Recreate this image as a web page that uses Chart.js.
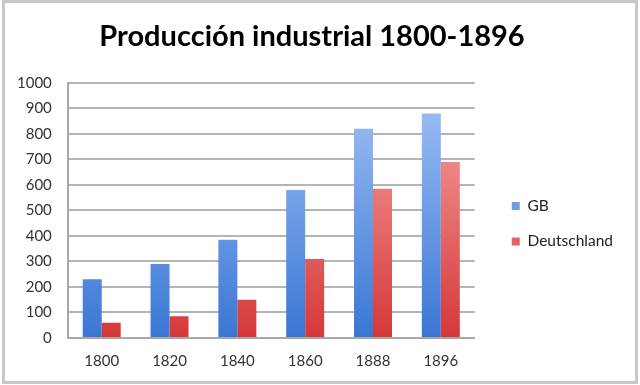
<!DOCTYPE html>
<html>
<head>
<meta charset="utf-8">
<script src="https://cdn.jsdelivr.net/npm/chart.js@4"></script>
<style>
  body { margin: 0; background: #fff; }
  #box { position: absolute; left: 2px; top: 0; width: 636px; height: 384px; border: 3px solid #c8c8c8; box-sizing: border-box; background: #fff; }
  #c { position: absolute; left: 0; top: 0; }
</style>
</head>
<body>
<div id="box"><canvas id="c" width="630" height="378"></canvas></div>
<script>
// datos
var years = ['1800', '1820', '1840', '1860', '1888', '1896'];
var gb = [230, 290, 385, 580, 820, 880];
var deutschland = [60, 85, 150, 310, 585, 690];
var yTicks = [0, 100, 200, 300, 400, 500, 600, 700, 800, 900, 1000];

function grad(top, bottom) {
    return function(ctx) {
        var area = ctx.chart.chartArea;
        if (!area) return bottom;
        var g = ctx.chart.ctx.createLinearGradient(0, area.top, 0, area.bottom);
        g.addColorStop(0, top);
        g.addColorStop(1, bottom);
        return g;
    };
}

var ctxB = document.getElementById('c').getContext('2d');
var myBarChart = new Chart(ctxB, {
    type: 'bar',
    data: {
        labels: years,
        datasets: [{
            label: 'GB',
            data: gb,
            backgroundColor: grad('#a2c4f7', '#3a76d4'),
            borderWidth: 0
        },
        {
            label: 'Deutschland',
            data: deutschland,
            backgroundColor: grad('#f8aaa6', '#d5373a'),
            borderWidth: 0
        }]
    },
    options: {
        responsive: false,
        animation: false,
        layout: { padding: { left: -4, right: 12, top: 2, bottom: 5 } },
        datasets: { bar: { categoryPercentage: 0.56, barPercentage: 1.0 } },
        plugins: {
            title: {
                display: true,
                text: 'Producción industrial 1800-1896',
                color: '#000',
                font: { family: 'Lato', size: 29, weight: 'bold' },
                padding: { top: 14, bottom: 29 }
            },
            legend: {
                position: 'right',
                align: 'center',
                title: { display: true, text: '', font: { size: 12 }, padding: 26 },
                labels: {
                    color: '#222',
                    font: { family: 'Lato', size: 15.5 },
                    boxWidth: 8,
                    boxHeight: 8,
                    padding: 20
                }
            },
            tooltip: { enabled: false }
        },
        scales: {
            x: {
                grid: { display: false },
                border: { color: '#a8a8a8', width: 2 },
                ticks: { color: '#333', font: { family: 'Lato', size: 15 }, padding: 6 }
            },
            y: {
                min: 0,
                max: 1000,
                afterBuildTicks: function(axis) {
                    axis.ticks = yTicks.map(function(v) { return { value: v }; });
                },
                grid: { color: '#b4b4b4', lineWidth: 2, drawTicks: false },
                border: { color: '#a8a8a8', width: 2 },
                ticks: {
                    color: '#333',
                    font: { family: 'Lato', size: 15 },
                    padding: 16,
                    callback: function(v) { return String(v); }
                }
            },
            // hueco entre el gráfico y la leyenda
            gap: {
                position: 'right',
                display: false,
                afterFit: function(axis) { axis.width = 17; }
            }
        }
    }
});
</script>
</body>
</html>
